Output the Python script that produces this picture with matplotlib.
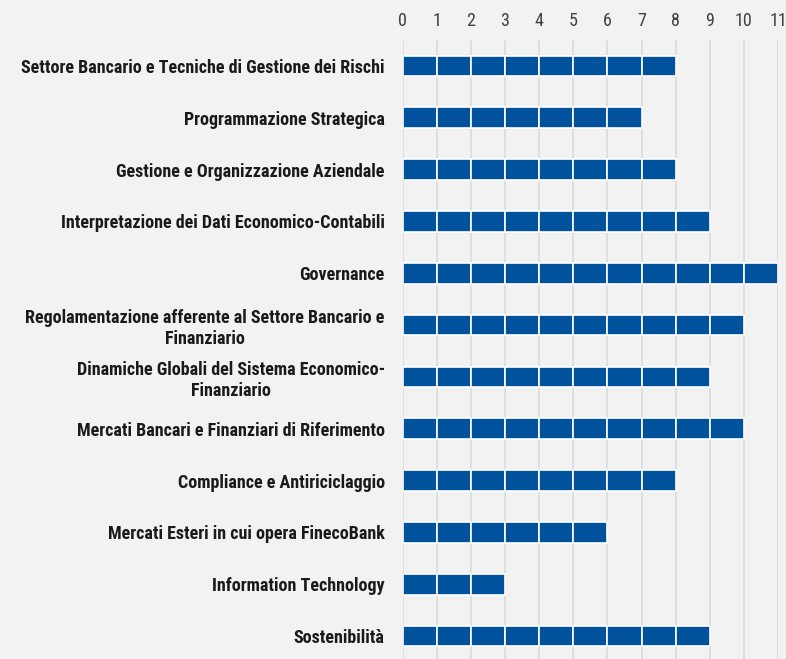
import matplotlib.pyplot as plt
from matplotlib import font_manager

# categorie e valori (numero di consiglieri per competenza)
categorie = [
    "Settore Bancario e Tecniche di Gestione dei Rischi",
    "Programmazione Strategica",
    "Gestione e Organizzazione Aziendale",
    "Interpretazione dei Dati Economico-Contabili",
    "Governance",
    "Regolamentazione afferente al Settore Bancario e\nFinanziario",
    "Dinamiche Globali del Sistema Economico-\nFinanziario",
    "Mercati Bancari e Finanziari di Riferimento",
    "Compliance e Antiriciclaggio",
    "Mercati Esteri in cui opera FinecoBank",
    "Information Technology",
    "Sostenibilità",
]
valori = [8, 7, 8, 9, 11, 10, 9, 10, 8, 6, 3, 9]
tick_x = list(range(0, 12))

# font stretto tipo Arial Narrow, se c'è
presenti = {(f.name, f.weight) for f in font_manager.fontManager.ttflist}
candidati = ['Liberation Sans Narrow', 'Arial Narrow', 'Roboto Condensed',
             'PT Sans Narrow', 'Asap Condensed', 'Liberation Sans']
font = next(c for c in candidati if (c, 700) in presenti or c == 'Liberation Sans')
plt.rcParams['font.family'] = [font, 'DejaVu Sans']

bg = '#f2f2f2'
blu = '#00529c'

fig = plt.figure(figsize=(7.86, 6.59), dpi=100, facecolor=bg)
ax = fig.add_axes([402.7 / 786, -3 / 659, 375.3 / 786, 622 / 659])
ax.set_facecolor(bg)

# ogni barra è fatta di blocchi unitari con bordo bianco
for i, v in enumerate(valori):
    ax.barh([i] * v, [1] * v, left=list(range(v)), height=0.4,
            color=blu, edgecolor='white', linewidth=1.2, zorder=3)

ax.set_xlim(0, 11)
ax.set_ylim(11.5, -0.5)
ax.set_xticks(tick_x)
ax.xaxis.tick_top()
ax.tick_params(axis='x', length=0, pad=7, labelsize=12, labelcolor='#404040')
ax.set_yticks(range(len(categorie)))
etichette = ax.set_yticklabels(categorie, fontsize=12, fontweight='bold', color='#1a1a1a',
                               multialignment='center')
ax.tick_params(axis='y', length=0, pad=13)
ax.grid(axis='x', color='#d9d9d9', linewidth=1.1, zorder=0)
for s in ax.spines.values():
    s.set_visible(False)

# la prima etichetta nel riferimento è larga circa 367 px
r = fig.canvas.get_renderer()
larg = etichette[0].get_window_extent(r).width
dim = 12 * 367 / larg
for t in etichette:
    t.set_fontsize(dim)
ax.tick_params(axis='x', labelsize=dim)

fig.savefig('out.png', dpi=100, facecolor=bg)
